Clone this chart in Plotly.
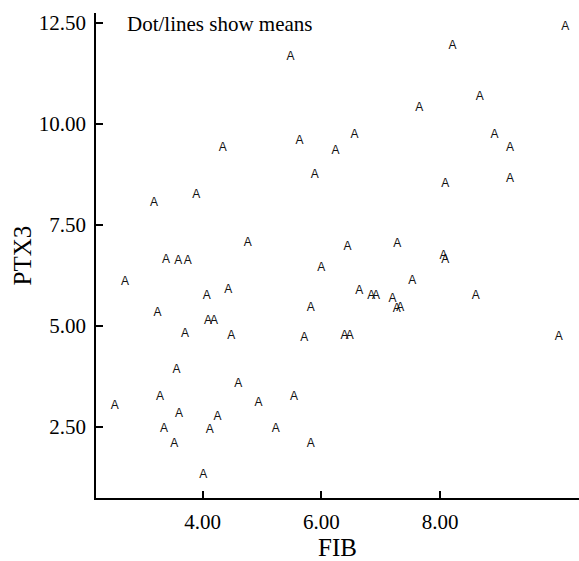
import plotly.graph_objects as go

fib = [4.76, 3.38, 3.59, 3.75, 6.00, 2.69, 4.07, 4.43, 5.82, 3.24,
       4.09, 4.19, 3.70, 4.48, 5.71, 3.56, 4.60, 3.28, 2.52, 4.94,
       5.54, 3.60, 4.25, 3.35, 4.12, 5.23, 3.52, 5.82, 4.01,
       5.48, 5.63, 4.34, 6.24, 5.89, 3.89, 3.18,
       10.11, 8.21, 8.67, 7.65, 6.56, 8.92, 9.18, 8.09, 9.18,
       6.44, 7.28, 8.06, 8.09, 7.53, 6.64, 6.84, 6.92, 7.20, 7.27,
       7.33, 8.60, 6.39, 6.48, 10.00]
ptx3 = [7.06, 6.64, 6.60, 6.60, 6.44, 6.08, 5.74, 5.88, 5.44, 5.32,
        5.12, 5.12, 4.81, 4.74, 4.70, 3.90, 3.56, 3.24, 3.02, 3.08,
        3.24, 2.81, 2.75, 2.44, 2.42, 2.44, 2.09, 2.09, 1.32,
        11.64, 9.57, 9.40, 9.32, 8.73, 8.23, 8.04,
        12.40, 11.93, 10.65, 10.38, 9.73, 9.73, 9.40, 8.50, 8.63,
        6.95, 7.02, 6.72, 6.62, 6.10, 5.86, 5.74, 5.74, 5.66, 5.41,
        5.43, 5.74, 4.74, 4.76, 4.73]

x_ticks = [4, 6, 8]
y_ticks = [2.5, 5.0, 7.5, 10.0, 12.5]

serif = "Liberation Serif, Times New Roman, serif"
fsize = 21

fig = go.Figure()
fig.add_trace(go.Scatter(
    x=fib, y=ptx3, mode="text", text=["A"] * len(fib),
    textposition="middle center",
    textfont=dict(family="Liberation Sans, Arial, sans-serif", size=12, color="#111111"),
    hoverinfo="x+y", showlegend=False,
))

fig.update_layout(
    width=579, height=561,
    margin=dict(l=96, r=0, t=13, b=63),
    paper_bgcolor="white", plot_bgcolor="white",
    font=dict(family=serif, size=fsize, color="black"),
    xaxis=dict(
        range=[2.202, 10.342], tickvals=x_ticks, tickformat=".2f",
        ticks="inside", ticklen=7, tickwidth=1.5, tickcolor="black",
        showline=True, linecolor="black", linewidth=1.5,
        showgrid=False, zeroline=False, automargin=False,
        ticklabelstandoff=4,
        title=dict(text="FIB", standoff=12),
        tickfont=dict(family=serif, size=fsize, color="black"),
    ),
    yaxis=dict(
        range=[0.743, 12.735], tickvals=y_ticks, tickformat=".2f",
        ticks="inside", ticklen=7, tickwidth=1.5, tickcolor="black",
        showline=True, linecolor="black", linewidth=1.5,
        showgrid=False, zeroline=False, automargin=False,
        ticklabelstandoff=4,
        title=dict(text="PTX3", standoff=0),
        tickfont=dict(family=serif, size=fsize, color="black"),
    ),
    annotations=[dict(
        text="Dot/lines show means", xref="paper", yref="paper",
        x=0.06, y=0.977, xanchor="left", yanchor="middle",
        showarrow=False, font=dict(family=serif, size=fsize, color="black"),
    )],
)

fig.write_html("out.html",
               config={"displayModeBar": False},
               post_script="document.body.style.margin='0px';document.body.style.overflow='hidden';")
